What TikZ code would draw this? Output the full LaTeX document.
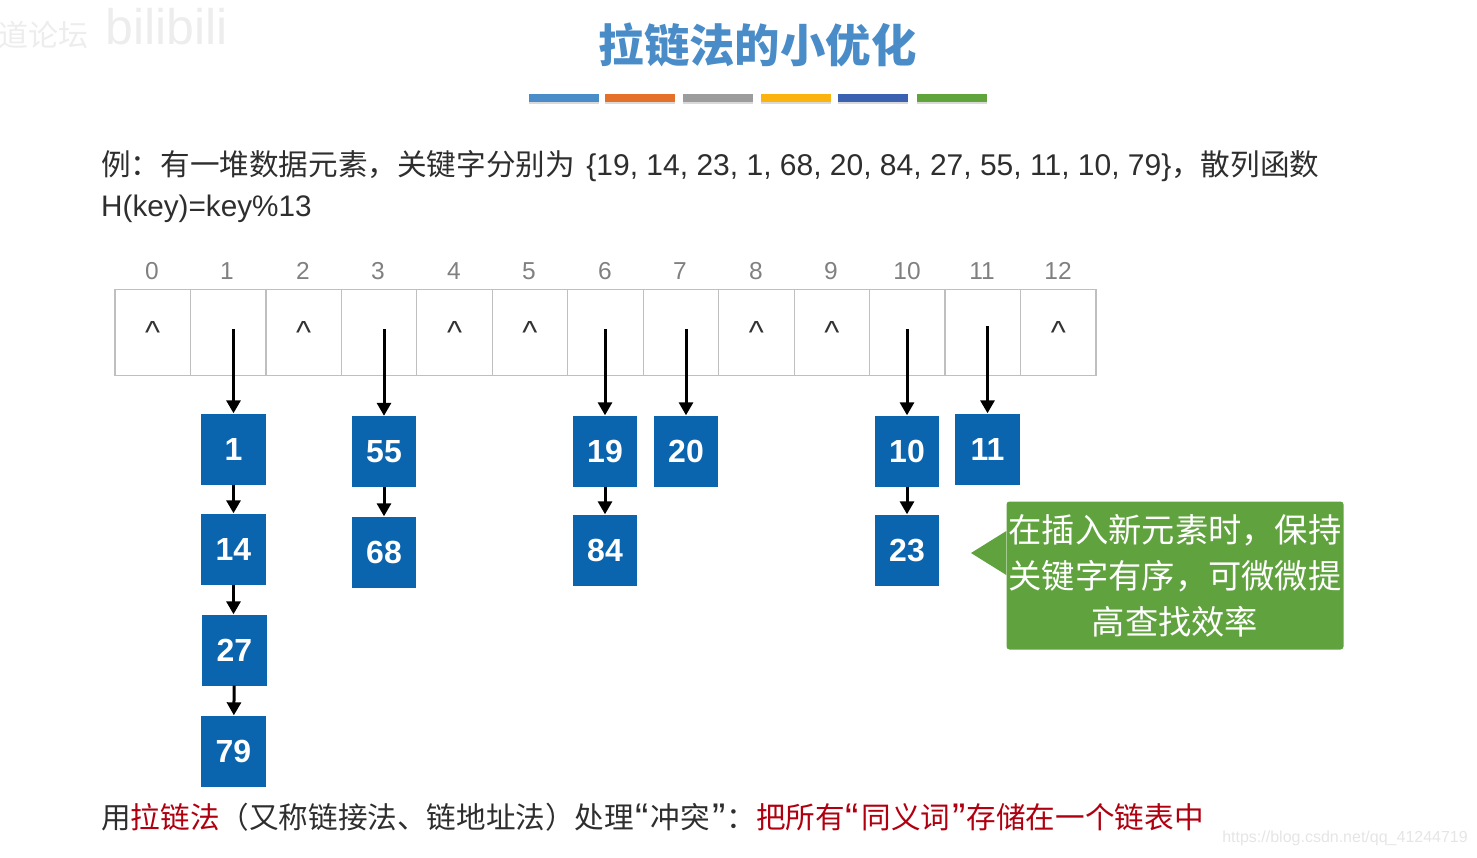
\documentclass[tikz,border=0pt]{standalone}
\usepackage{fontspec}
\setmainfont{Liberation Sans}
\newfontfamily\cjk[Scale=0.987]{Noto Sans CJK SC}
\usetikzlibrary{arrows.meta,shadows}
\definecolor{titleblue}{HTML}{4A8CC8}
\definecolor{barorange}{HTML}{E5702A}
\definecolor{bargray}{HTML}{9C9C9C}
\definecolor{baryellow}{HTML}{FBB40F}
\definecolor{bardeep}{HTML}{3A62B0}
\definecolor{bargreen}{HTML}{5FA53C}
\definecolor{keyblue}{HTML}{0A64AE}
\definecolor{noteGreen}{HTML}{60A33E}
\definecolor{darkred}{HTML}{B00010}
\definecolor{bodytext}{HTML}{2E2E2E}
\newcommand{\openq}{\kern1pt\raisebox{-3pt}{\fontsize{40}{34}\selectfont “}\kern2.2pt}
\newcommand{\closeq}{\kern2.2pt\raisebox{-3pt}{\fontsize{40}{34}\selectfont ”}\kern1pt}
\tikzset{
  titlebar/.style={minimum width=70, minimum height=8, inner sep=0, drop shadow={shadow xshift=0pt, shadow yshift=-2pt, opacity=0.3}},
  cell/.style={draw=black!25, line width=1.2pt, minimum width=75.46, minimum height=86, inner sep=0},
  idx/.style={text=black!50, font=\fontsize{24.5}{28}\selectfont, inner sep=0},
  nil/.style={text=black!80, font=\fontsize{32}{36}\selectfont, inner sep=0},
  keybox/.style={fill=keyblue, text=white, minimum width=64.5, minimum height=71, inner sep=0, font=\fontsize{32}{36}\selectfont\bfseries},
  bodyline/.style={anchor=west, inner sep=0, text=bodytext, font=\fontsize{30}{34}\selectfont},
  link/.style={-{Triangle[length=13pt,width=14pt]}, line width=3pt, black},
  wmark/.style={inner sep=0, text=black!7}
}
\begin{document}
\begin{tikzpicture}[x=1pt,y=-1pt]
\useasboundingbox (0,0) rectangle (1477,857);
\node[wmark, anchor=west, font=\fontsize{30.4}{34}\selectfont\cjk] (wm1) at (-2,35) {道论坛};
\node[wmark, anchor=west, font=\fontsize{50}{54}\selectfont] (wm2) at (105,27) {bilibili};
\node[wmark, anchor=east, text=black!10, font=\fontsize{16}{20}\selectfont] (wm3) at (1468,838) {https://blog.csdn.net/qq\_41244719};
\node[inner sep=0, text=titleblue, font=\fontsize{46}{50}\selectfont\cjk\bfseries] (title) at (757.5,45) {拉链法的小优化};
\node[titlebar, fill=titleblue] (bar1) at (563.5,98) {};
\node[titlebar, fill=barorange] (bar2) at (639.5,98) {};
\node[titlebar, fill=bargray] (bar3) at (718,98) {};
\node[titlebar, fill=baryellow] (bar4) at (796,98) {};
\node[titlebar, fill=bardeep] (bar5) at (873,98) {};
\node[titlebar, fill=bargreen] (bar6) at (952,98) {};
\node[bodyline] (line1) at (101,166) {{\cjk 例：有一堆数据元素，关键字分别为}\kern11.5pt\{19, 14, 23, 1, 68, 20, 84, 27, 55, 11, 10, 79\}{\cjk ，散列函数}};
\node[bodyline, font=\fontsize{29.7}{34}\selectfont] (line2) at (101,209) {H(key)=key\%13};
\node[cell] (c0) at (152.7,332.5) {};
\node[cell] (c1) at (228.2,332.5) {};
\node[cell] (c2) at (303.7,332.5) {};
\node[cell] (c3) at (379.1,332.5) {};
\node[cell] (c4) at (454.6,332.5) {};
\node[cell] (c5) at (530.0,332.5) {};
\node[cell] (c6) at (605.5,332.5) {};
\node[cell] (c7) at (681.0,332.5) {};
\node[cell] (c8) at (756.4,332.5) {};
\node[cell] (c9) at (831.9,332.5) {};
\node[cell] (c10) at (907.3,332.5) {};
\node[cell] (c11) at (982.8,332.5) {};
\node[cell] (c12) at (1058.3,332.5) {};
\node[idx] (i0) at (152,271) {0};
\node[idx] (i1) at (227,271) {1};
\node[idx] (i2) at (303,271) {2};
\node[idx] (i3) at (378,271) {3};
\node[idx] (i4) at (454,271) {4};
\node[idx] (i5) at (529,271) {5};
\node[idx] (i6) at (605,271) {6};
\node[idx] (i7) at (680,271) {7};
\node[idx] (i8) at (756,271) {8};
\node[idx] (i9) at (831,271) {9};
\node[idx] (i10) at (907,271) {10};
\node[idx] (i11) at (982,271) {11};
\node[idx] (i12) at (1058,271) {12};
\node[nil] (n0) at (152.7,332) {\textasciicircum};
\node[nil] (n2) at (303.7,332) {\textasciicircum};
\node[nil] (n4) at (454.6,332) {\textasciicircum};
\node[nil] (n5) at (530,332) {\textasciicircum};
\node[nil] (n8) at (756.4,332) {\textasciicircum};
\node[nil] (n9) at (831.9,332) {\textasciicircum};
\node[nil] (n12) at (1058.3,332) {\textasciicircum};
\node[keybox] (k1) at (233.5,449) {1};
\node[keybox] (k14) at (233.5,549) {14};
\node[keybox] (k27) at (234.5,650) {27};
\node[keybox] (k79) at (233.5,751) {79};
\node[keybox] (k55) at (384,451.5) {55};
\node[keybox] (k68) at (384,552) {68};
\node[keybox] (k19) at (605,451) {19};
\node[keybox] (k84) at (605,550) {84};
\node[keybox] (k20) at (686,451) {20};
\node[keybox] (k10) at (907,451) {10};
\node[keybox] (k23) at (907,550) {23};
\node[keybox] (k11) at (987.5,449) {11};
\coordinate (s1) at (233.5,329);
\coordinate (s3) at (384,329);
\coordinate (s6) at (605,329);
\coordinate (s7) at (686,329);
\coordinate (s10) at (907,329);
\coordinate (s11) at (987.5,326);
\draw[link] (s1) -- (k1);
\draw[link] (s3) -- (k55);
\draw[link] (s6) -- (k19);
\draw[link] (s7) -- (k20);
\draw[link] (s10) -- (k10);
\draw[link] (s11) -- (k11);
\draw[link] (k1) -- (k14);
\draw[link] (k14) -- (k27.north -| k14);
\draw[link] (k27) -- (k79);
\draw[link] (k55) -- (k68);
\draw[link] (k19) -- (k84);
\draw[link] (k10) -- (k23);
\node[fill=noteGreen, rounded corners=3pt, minimum width=337, minimum height=148, inner sep=0, text=white, align=center, font=\fontsize{33.7}{46}\selectfont\cjk] (note) at (1175,575.5) {在插入新元素时，保持\\关键字有序，可微微提\\高查找效率};
\coordinate (tip) at (971,553);
\fill[noteGreen] (tip) -- (note.west |- 0,531) -- (note.west |- 0,575) -- cycle;
\node[bodyline] (line3) at (101,817) {{\cjk 用\textcolor{darkred}{拉链法}（又称链接法、链地址法）处理}\openq{\cjk 冲突}\closeq{\cjk ：}\textcolor{darkred}{{\cjk 把所有}\openq{\cjk 同义词}\closeq{\cjk 存储在一个链表中}}};
\end{tikzpicture}
\end{document}
